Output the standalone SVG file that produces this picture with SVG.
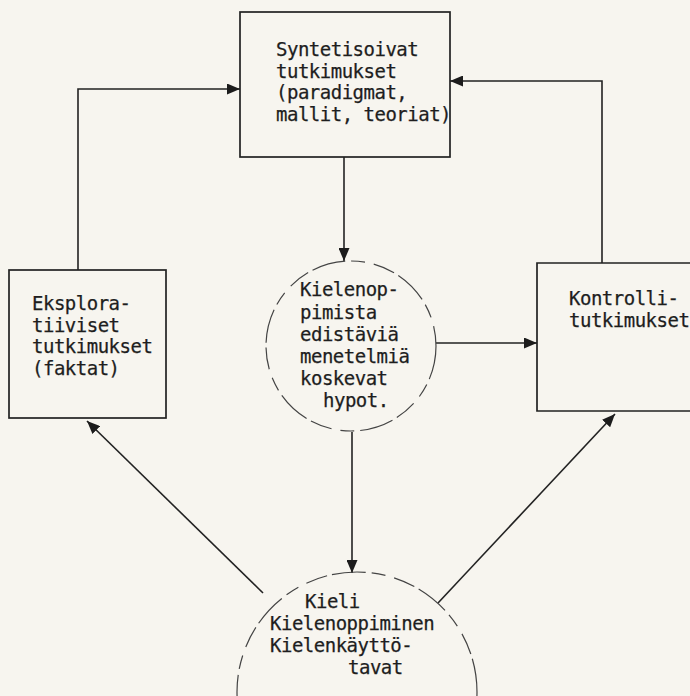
<svg xmlns="http://www.w3.org/2000/svg" width="690" height="696" viewBox="0 0 690 696">
  <defs>
    <marker id="arr" viewBox="0 0 13 11" refX="13" refY="5.5" markerWidth="13" markerHeight="11" markerUnits="userSpaceOnUse" orient="auto">
      <path d="M0,0 L13,5.5 L0,11 Z" fill="#1c1c1c"/>
    </marker>
  </defs>
  <style>
    .box { fill: none; stroke: #222; stroke-width: 1.7; }
    .circ { fill: none; stroke: #444; stroke-width: 1.2; stroke-dasharray: 34 6 14 9 22 5; }
    .conn { fill: none; stroke: #222; stroke-width: 1.6; marker-end: url(#arr); }
    text { font-family: "DejaVu Sans Mono", "Liberation Mono", monospace; font-size: 19px; letter-spacing: -0.5px; fill: #1e1e1e; stroke: #1e1e1e; stroke-width: 0.25; }
  </style>
  <rect x="0" y="0" width="690" height="696" fill="#f7f5ef"/>

  <g id="connectors">
    <path class="conn" d="M78,270 V89 H240"/>
    <path class="conn" d="M602,263 V81 H450"/>
    <path class="conn" d="M344,157 V261"/>
    <path class="conn" d="M436,343 H537"/>
    <path class="conn" d="M352,432 V573"/>
    <path class="conn" d="M263,593 L87,421"/>
    <path class="conn" d="M438,603 L615,414"/>
  </g>

  <g id="synthetic">
    <rect class="box" x="240" y="12" width="210" height="145"/>
    <text x="276" y="56">Syntetisoivat</text>
    <text x="276" y="77.5">tutkimukset</text>
    <text x="276" y="99">(paradigmat,</text>
    <text x="276" y="120.5">mallit, teoriat)</text>
  </g>

  <g id="explorative">
    <rect class="box" x="9" y="270" width="157" height="148"/>
    <text x="32" y="310">Eksplora-</text>
    <text x="32" y="331.5">tiiviset</text>
    <text x="32" y="353">tutkimukset</text>
    <text x="32" y="374.5">(faktat)</text>
  </g>

  <g id="control">
    <path class="box" d="M692,263 H537 V411 H692"/>
    <text x="569" y="305">Kontrolli-</text>
    <text x="569" y="327">tutkimukset</text>
  </g>

  <g id="hypotheses">
    <circle class="circ" cx="351" cy="346" r="85"/>
    <text x="300" y="296">Kielenop-</text>
    <text x="300" y="318.5">pimista</text>
    <text x="300" y="341">edistäviä</text>
    <text x="300" y="363">menetelmiä</text>
    <text x="300" y="385">koskevat</text>
    <text x="323" y="407">hypot.</text>
  </g>

  <g id="language">
    <circle class="circ" cx="357" cy="692" r="120"/>
    <text x="305" y="608">Kieli</text>
    <text x="270" y="630">Kielenoppiminen</text>
    <text x="270" y="652">Kielenkäyttö-</text>
    <text x="348" y="674">tavat</text>
  </g>
</svg>
